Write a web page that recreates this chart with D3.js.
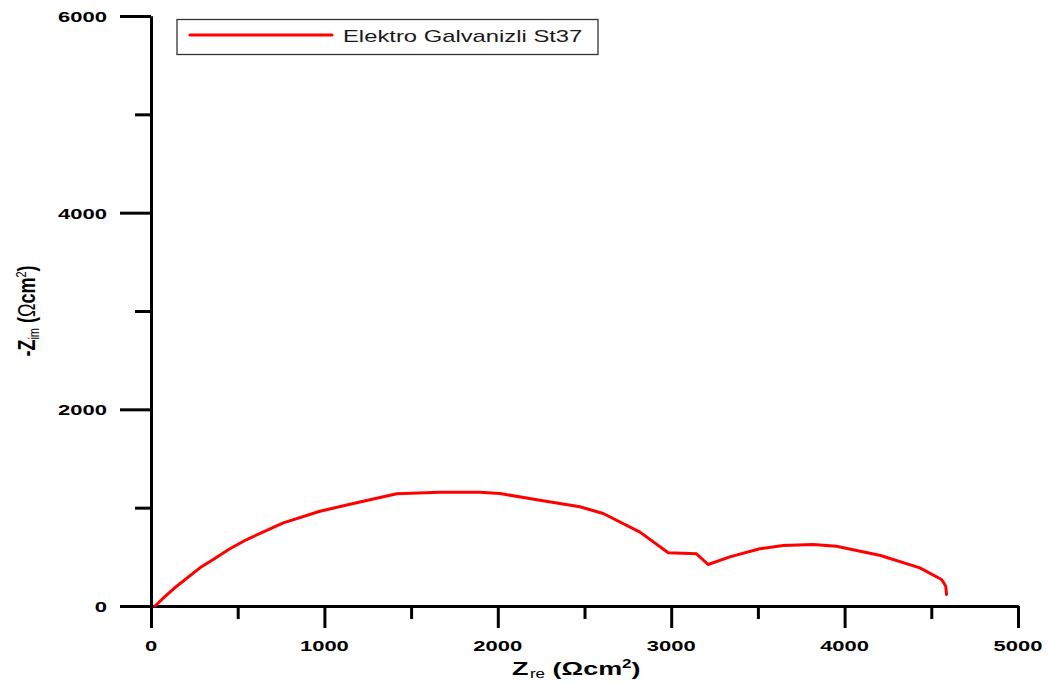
<!DOCTYPE html>
<html>
<head>
<meta charset="utf-8">
<script src="https://cdn.jsdelivr.net/npm/d3@7"></script>
<style>
  html, body { margin: 0; padding: 0; background: #fff; }
  svg { display: block; font-family: "Liberation Sans", Arial, sans-serif; }
</style>
</head>
<body>
<svg id="chart" width="1048" height="684"></svg>
<script>
// ---- data ----
const seriesName = "Elektro Galvanizli St37";
const zre = [23, 80, 148, 282, 359, 455, 552, 763, 974, 1186, 1417, 1666, 1897, 2012, 2243, 2473, 2608, 2820, 2983, 3146, 3213, 3338, 3511, 3646, 3819, 3953, 4207, 4434, 4559, 4583, 4588];
const zim = [0, 95, 201, 388, 473, 582, 676, 846, 964, 1050, 1141, 1157, 1157, 1144, 1076, 1009, 941, 751, 541, 531, 422, 500, 582, 615, 625, 608, 514, 388, 270, 203, 117];
const xMajorTicks = [0, 1000, 2000, 3000, 4000, 5000];
const xMinorTicks = [500, 1500, 2500, 3500, 4500];
const yMajorTicks = [0, 2000, 4000, 6000];
const yMinorTicks = [1000, 3000, 5000];

const svg = d3.select("#chart");
const x = d3.scaleLinear().domain([0, 5000]).range([151, 1018]);
const y = d3.scaleLinear().domain([0, 6000]).range([606, 16]);
const SX = 1.42; // horizontal glyph stretch seen in the reference

// ---- axes ----
function styleAxis(g) {
  g.selectAll("path, line").attr("stroke", "#000").attr("stroke-width", 3);
  g.selectAll("text").remove();
}
svg.append("g").attr("transform", `translate(0,${y(0)})`)
  .call(d3.axisBottom(x).tickValues(xMinorTicks).tickSize(13).tickSizeOuter(0))
  .call(styleAxis);
svg.append("g").attr("transform", `translate(0,${y(0)})`)
  .call(d3.axisBottom(x).tickValues(xMajorTicks).tickSize(22).tickSizeOuter(0))
  .call(styleAxis);
svg.append("g").attr("transform", `translate(${x(0)},0)`)
  .call(d3.axisLeft(y).tickValues(yMinorTicks).tickSize(16).tickSizeOuter(0))
  .call(styleAxis);
svg.append("g").attr("transform", `translate(${x(0)},0)`)
  .call(d3.axisLeft(y).tickValues(yMajorTicks).tickSize(31).tickSizeOuter(0))
  .call(styleAxis);

// tick labels
svg.append("g").selectAll("text").data(xMajorTicks).join("text")
  .attr("transform", d => `translate(${x(d)},651) scale(${SX},1)`)
  .attr("text-anchor", "middle")
  .attr("font-size", 15.5).attr("font-weight", "bold").attr("fill", "#000")
  .text(d => d);
svg.append("g").selectAll("text").data(yMajorTicks).join("text")
  .attr("transform", d => `translate(107,${y(d) + 6}) scale(${SX},1)`)
  .attr("text-anchor", "end")
  .attr("font-size", 15.5).attr("font-weight", "bold").attr("fill", "#000")
  .text(d => d);

// axis titles
const xt = svg.append("text")
  .attr("transform", `translate(512,675) scale(${SX},1)`)
  .attr("font-size", 19).attr("font-weight", "bold").attr("fill", "#000");
xt.append("tspan").text("Z");
xt.append("tspan").attr("font-size", 12).attr("font-weight", "normal").attr("dy", 3).attr("dx", 1).text("re");
xt.append("tspan").attr("dy", -3).text(" (Ωcm");
xt.append("tspan").attr("font-size", 12).attr("dy", -7).text("2");
xt.append("tspan").attr("dy", 7).text(")");

const yt = svg.append("text")
  .attr("transform", `translate(35,311) scale(1.35,1) rotate(-90)`)
  .attr("text-anchor", "middle")
  .attr("font-size", 18).attr("font-weight", "bold").attr("fill", "#000");
yt.append("tspan").text("-Z");
yt.append("tspan").attr("font-size", 11).attr("font-weight", "normal").attr("dy", 3).text("im");
yt.append("tspan").attr("dy", -3).text(" (");
yt.append("tspan").attr("font-weight", "normal").text("Ω");
yt.append("tspan").text("cm");
yt.append("tspan").attr("font-size", 11).attr("font-weight", "normal").attr("dy", -7).text("2");
yt.append("tspan").attr("dy", 7).text(")");

// ---- series ----
const pts = zre.map((v, i) => [v, zim[i]]);
svg.append("path").datum(pts)
  .attr("fill", "none").attr("stroke", "#ff0000").attr("stroke-width", 3)
  .attr("stroke-linejoin", "round").attr("stroke-linecap", "round")
  .attr("d", d3.line().x(d => x(d[0])).y(d => y(d[1])));

// ---- legend ----
const lg = svg.append("g");
lg.append("rect").attr("x", 177).attr("y", 19.5).attr("width", 421).attr("height", 35)
  .attr("fill", "#fff").attr("stroke", "#333").attr("stroke-width", 1.3);
lg.append("line").attr("x1", 190).attr("x2", 332).attr("y1", 35).attr("y2", 35)
  .attr("stroke", "#ff0000").attr("stroke-width", 3).attr("stroke-linecap", "round");
lg.append("text").attr("transform", `translate(343,42) scale(1.4,1)`)
  .attr("font-size", 17).attr("fill", "#1a1a1a").text(seriesName);
</script>
</body>
</html>
